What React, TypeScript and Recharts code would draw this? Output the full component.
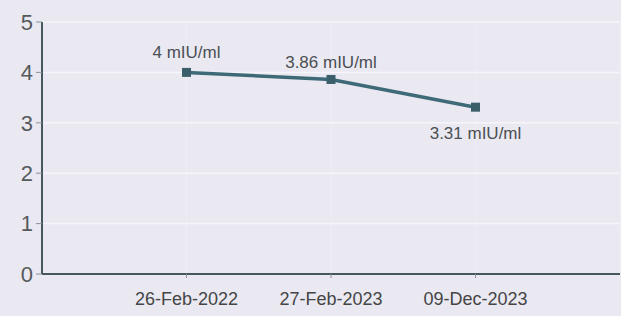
import React from "react";
import {
  LineChart,
  Line,
  XAxis,
  YAxis,
  CartesianGrid,
  LabelList,
} from "recharts";

const dates = ["26-Feb-2022", "27-Feb-2023", "09-Dec-2023"];
const values = [4, 3.86, 3.31];
const valueLabels = ["4 mIU/ml", "3.86 mIU/ml", "3.31 mIU/ml"];
const yTicks = [0, 1, 2, 3, 4, 5];

const data = dates.map((d, i) => ({ x: i + 1, date: d, value: values[i], label: valueLabels[i] }));

const labelDy = [-19, -16, 27];

const PointLabel = (props: any) => {
  const { x, y, index, value } = props;
  return (
    <text
      x={x}
      y={y + labelDy[index]}
      textAnchor="middle"
      dominantBaseline="middle"
      fontSize={17}
      fill="#4a4f52"
    >
      {value}
    </text>
  );
};

const SquareDot = (props: any) => {
  const { cx, cy } = props;
  return <rect x={cx - 4.5} y={cy - 4.5} width={9} height={9} fill="#3b5f6a" />;
};

export default function App() {
  return (
    <div
      style={{
        position: "absolute",
        left: 0,
        top: 0,
        width: 621,
        height: 316,
        background: "#eae9f2",
        fontFamily: "'Liberation Sans', Arial, sans-serif",
      }}
    >
      <LineChart
        width={621}
        height={316}
        data={data}
        margin={{ top: 22, right: 1, left: 0, bottom: 0 }}
      >
        <CartesianGrid horizontal={false} stroke="#eeedf5" strokeWidth={1} />
        <CartesianGrid vertical={false} stroke="#f6f5fa" strokeWidth={1.5} />
        <XAxis
          dataKey="x"
          type="number"
          domain={[0, 4]}
          ticks={[1, 2, 3]}
          tickFormatter={(v: number) => dates[v - 1]}
          height={42}
          axisLine={{ stroke: "#46585c", strokeWidth: 2 }}
          tickLine={{ stroke: "#8a9396" }}
          tickSize={4}
          tick={{ fill: "#454545", fontSize: 18 }}
          tickMargin={14}
        />
        <YAxis
          type="number"
          domain={[0, 5]}
          ticks={yTicks}
          width={42}
          axisLine={{ stroke: "#46585c", strokeWidth: 2 }}
          tickLine={{ stroke: "#8a9396" }}
          tickSize={6}
          tickMargin={3}
          tick={{ fill: "#555a5c", fontSize: 22 }}
        />
        <Line
          type="linear"
          dataKey="value"
          stroke="#3d6a76"
          strokeWidth={3.5}
          dot={<SquareDot />}
          activeDot={false}
          isAnimationActive={false}
        >
          <LabelList dataKey="label" content={<PointLabel />} />
        </Line>
      </LineChart>
    </div>
  );
}
